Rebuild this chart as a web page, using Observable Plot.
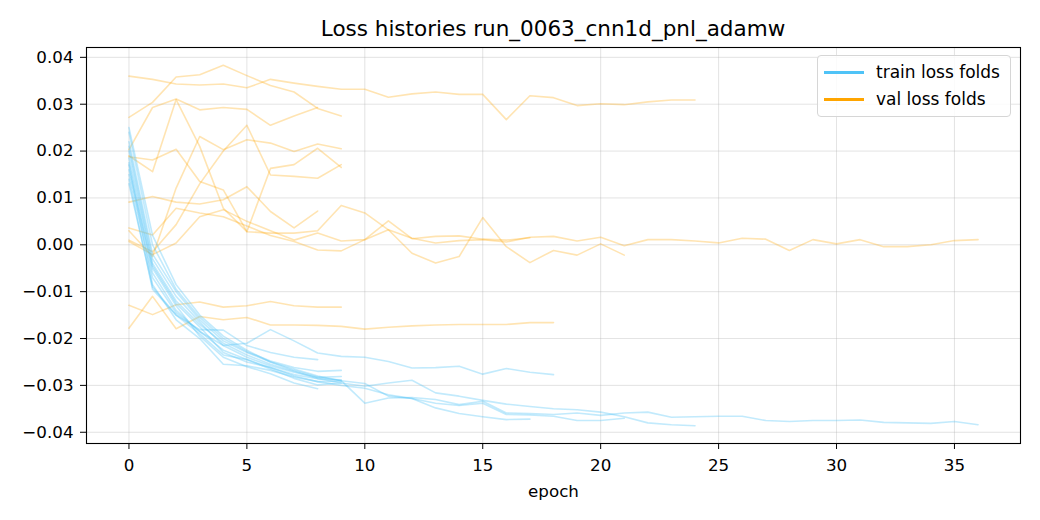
<!DOCTYPE html>
<html>
<head>
<meta charset="utf-8">
<script src="https://cdn.jsdelivr.net/npm/d3@7"></script>
<script src="https://cdn.jsdelivr.net/npm/@observablehq/plot@0.6"></script>
<style>
  html, body { margin: 0; padding: 0; background: #fff; }
  body { font-family: "DejaVu Sans", sans-serif; }
  #wrap { position: relative; width: 1040px; height: 520px; }
  #title { position: absolute; left: 86px; width: 934px; top: 16px; text-align: center; font-size: 21.5px; line-height: 26px; color: #000; }
  #legend { position: absolute; left: 817px; top: 55px; width: 192px; height: 60px; border: 1px solid #d6d6d6; border-radius: 4px; background: rgba(255,255,255,0.85); }
  .item { position: absolute; left: 0; height: 24px; font-size: 17px; color: #000; }
  .item .sw { position: absolute; left: 6px; top: 11px; width: 40px; height: 2.5px; }
  .item .lb { position: absolute; left: 58px; top: 0; white-space: nowrap; line-height: 24px; }
</style>
</head>
<body>
<div id="wrap">
  <div id="chart"></div>
  <div id="title">Loss histories run_0063_cnn1d_pnl_adamw</div>
  <div id="legend">
    <div class="item" style="top:4px"><div class="sw" style="background:#4fc3f7"></div><div class="lb">train loss folds</div></div>
    <div class="item" style="top:31px"><div class="sw" style="background:#ffa500"></div><div class="lb">val loss folds</div></div>
  </div>
</div>
<script>
// ---- data: per-fold loss histories (epoch index = array position) ----
const train01 = [0.0250, 0.0020, -0.0085, -0.0150, -0.0195, -0.0225, -0.0250, -0.0268, -0.0282, -0.0290, -0.0338, -0.0327, -0.0326, -0.0330, -0.0341, -0.0334, -0.0359, -0.0360, -0.0362, -0.0359, -0.0364, -0.0359, -0.0357, -0.0368, -0.0367, -0.0366, -0.0366, -0.0375, -0.0377, -0.0375, -0.0375, -0.0374, -0.0379, -0.0380, -0.0381, -0.0377, -0.0384];
const train02 = [0.0200, -0.0040, -0.0120, -0.0170, -0.0210, -0.0235, -0.0255, -0.0270, -0.0285, -0.0295, -0.0302, -0.0295, -0.0289, -0.0316, -0.0323, -0.0332, -0.0340, -0.0345, -0.0350, -0.0352, -0.0357, -0.0367, -0.0380, -0.0384, -0.0386];
const train03 = [0.0220, -0.0020, -0.0100, -0.0160, -0.0205, -0.0230, -0.0250, -0.0265, -0.0280, -0.0290, -0.0296, -0.0323, -0.0328, -0.0338, -0.0343, -0.0338, -0.0362, -0.0363, -0.0366, -0.0375, -0.0375, -0.0370];
const train04 = [0.0175, -0.0060, -0.0140, -0.0185, -0.0225, -0.0245, -0.0262, -0.0280, -0.0292, -0.0300, -0.0306, -0.0320, -0.0328, -0.0348, -0.0360, -0.0367, -0.0373, -0.0372];
const train05 = [0.0150, -0.0070, -0.0145, -0.0185, -0.0215, -0.0210, -0.0181, -0.0205, -0.0231, -0.0238, -0.0240, -0.0249, -0.0263, -0.0262, -0.0259, -0.0276, -0.0264, -0.0272, -0.0277];
const train06 = [0.0130, -0.0090, -0.0150, -0.0181, -0.0182, -0.0215, -0.0230, -0.0240, -0.0245];
const train07 = [0.0160, -0.0050, -0.0130, -0.0195, -0.0240, -0.0260, -0.0275, -0.0295, -0.0307];
const train08 = [0.0240, 0.0000, -0.0095, -0.0155, -0.0200, -0.0228, -0.0248, -0.0262, -0.0270, -0.0268];
const train09 = [0.0210, -0.0030, -0.0110, -0.0165, -0.0215, -0.0240, -0.0258, -0.0272, -0.0283, -0.0281];
const train10 = [0.0185, -0.0045, -0.0125, -0.0175, -0.0230, -0.0250, -0.0262, -0.0277, -0.0286, -0.0288];
const train11 = [0.0170, -0.0085, -0.0160, -0.0200, -0.0255, -0.0258, -0.0268, -0.0282, -0.0292, -0.0291];
const train12 = [0.0140, -0.0095, -0.0150, -0.0190, -0.0235, -0.0245, -0.0265, -0.0285, -0.0299, -0.0295];

const val01 = [0.0036, 0.0021, 0.0078, 0.0068, 0.0060, 0.0040, 0.0020, 0.0007, -0.0011, -0.0013, 0.0011, 0.0032, 0.0014, 0.0004, 0.0009, 0.0011, 0.0006, 0.0016, 0.0018, 0.0008, 0.0016, -0.0002, 0.0011, 0.0011, 0.0008, 0.0004, 0.0014, 0.0012, -0.0012, 0.0011, 0.0002, 0.0011, -0.0004, -0.0004, 0.0000, 0.0009, 0.0011];
const val02 = [0.0360, 0.0353, 0.0343, 0.0341, 0.0343, 0.0335, 0.0353, 0.0345, 0.0338, 0.0332, 0.0332, 0.0315, 0.0322, 0.0326, 0.0321, 0.0321, 0.0267, 0.0318, 0.0314, 0.0297, 0.0301, 0.0299, 0.0305, 0.0309, 0.0309];
const val03 = [0.0190, 0.0156, 0.0310, 0.0210, 0.0078, 0.0028, 0.0025, 0.0025, 0.0030, 0.0084, 0.0068, 0.0032, -0.0018, -0.0039, -0.0025, 0.0058, -0.0004, -0.0038, -0.0012, -0.0022, 0.0002, -0.0022];
const val04 = [0.0007, -0.0021, 0.0004, 0.0060, 0.0075, 0.0050, 0.0030, 0.0010, 0.0025, 0.0008, 0.0011, 0.0051, 0.0013, 0.0018, 0.0019, 0.0012, 0.0010, 0.0015];
const val05 = [-0.0178, -0.0110, -0.0179, -0.0153, -0.0160, -0.0155, -0.0171, -0.0171, -0.0172, -0.0174, -0.0180, -0.0176, -0.0173, -0.0171, -0.0170, -0.0170, -0.0170, -0.0166, -0.0166];
const val06 = [0.0091, 0.0103, 0.0091, 0.0087, 0.0096, 0.0124, 0.0071, 0.0036, 0.0072];
const val07 = [0.0203, 0.0293, 0.0311, 0.0288, 0.0293, 0.0289, 0.0255, 0.0275, 0.0293];
const val08 = [0.0272, 0.0304, 0.0358, 0.0363, 0.0383, 0.0361, 0.0340, 0.0326, 0.0291, 0.0275];
const val09 = [0.0030, -0.0025, 0.0121, 0.0231, 0.0203, 0.0224, 0.0217, 0.0199, 0.0215, 0.0205];
const val10 = [0.0010, -0.0015, 0.0043, 0.0130, 0.0200, 0.0255, 0.0149, 0.0146, 0.0142, 0.0171];
const val11 = [0.0188, 0.0181, 0.0204, 0.0135, 0.0117, 0.0028, 0.0163, 0.0171, 0.0206, 0.0165];
const val12 = [-0.0129, -0.0149, -0.0128, -0.0122, -0.0133, -0.0130, -0.0121, -0.0130, -0.0133, -0.0133];

const xTicks = [0, 5, 10, 15, 20, 25, 30, 35];
const yTicks = [-0.04, -0.03, -0.02, -0.01, 0.00, 0.01, 0.02, 0.03, 0.04];

const trainFolds = [train01, train02, train03, train04, train05, train06, train07, train08, train09, train10, train11, train12];
const valFolds = [val01, val02, val03, val04, val05, val06, val07, val08, val09, val10, val11, val12];

function toRows(folds, kind) {
  const rows = [];
  folds.forEach((arr, f) => arr.forEach((v, i) => rows.push({fold: kind + f, epoch: i, loss: v})));
  return rows;
}
const trainRows = toRows(trainFolds, "t");
const valRows = toRows(valFolds, "v");

const fmtY = d => (d < 0 ? "\u2212" : "") + Math.abs(d).toFixed(2);

const chart = Plot.plot({
  width: 1040,
  height: 520,
  marginTop: 47,
  marginBottom: 77,
  marginLeft: 86,
  marginRight: 20,
  style: {fontFamily: "DejaVu Sans, sans-serif", fontSize: "16.7px", color: "#000", background: "transparent"},
  x: {domain: [-1.8, 37.8]},
  y: {domain: [-0.0424, 0.0421]},
  marks: [
    Plot.gridX(xTicks, {stroke: "#b0b0b0", strokeOpacity: 0.35, strokeWidth: 1}),
    Plot.gridY(yTicks, {stroke: "#b0b0b0", strokeOpacity: 0.35, strokeWidth: 1}),
    Plot.line(valRows, {x: "epoch", y: "loss", z: "fold", stroke: "#ffa500", strokeOpacity: 0.3, strokeWidth: 1.6}),
    Plot.line(trainRows, {x: "epoch", y: "loss", z: "fold", stroke: "#4fc3f7", strokeOpacity: 0.35, strokeWidth: 1.6}),
    Plot.frame({stroke: "#000", strokeWidth: 1.1}),
    Plot.axisX(xTicks, {tickSize: 6, tickPadding: 10, fontSize: 16.7, label: "epoch", labelAnchor: "center", labelArrow: "none", labelOffset: 53}),
    Plot.axisY(yTicks, {tickSize: 6, tickPadding: 7, fontSize: 16.7, tickFormat: fmtY, label: null})
  ]
});
document.getElementById("chart").appendChild(chart);
</script>
</body>
</html>
